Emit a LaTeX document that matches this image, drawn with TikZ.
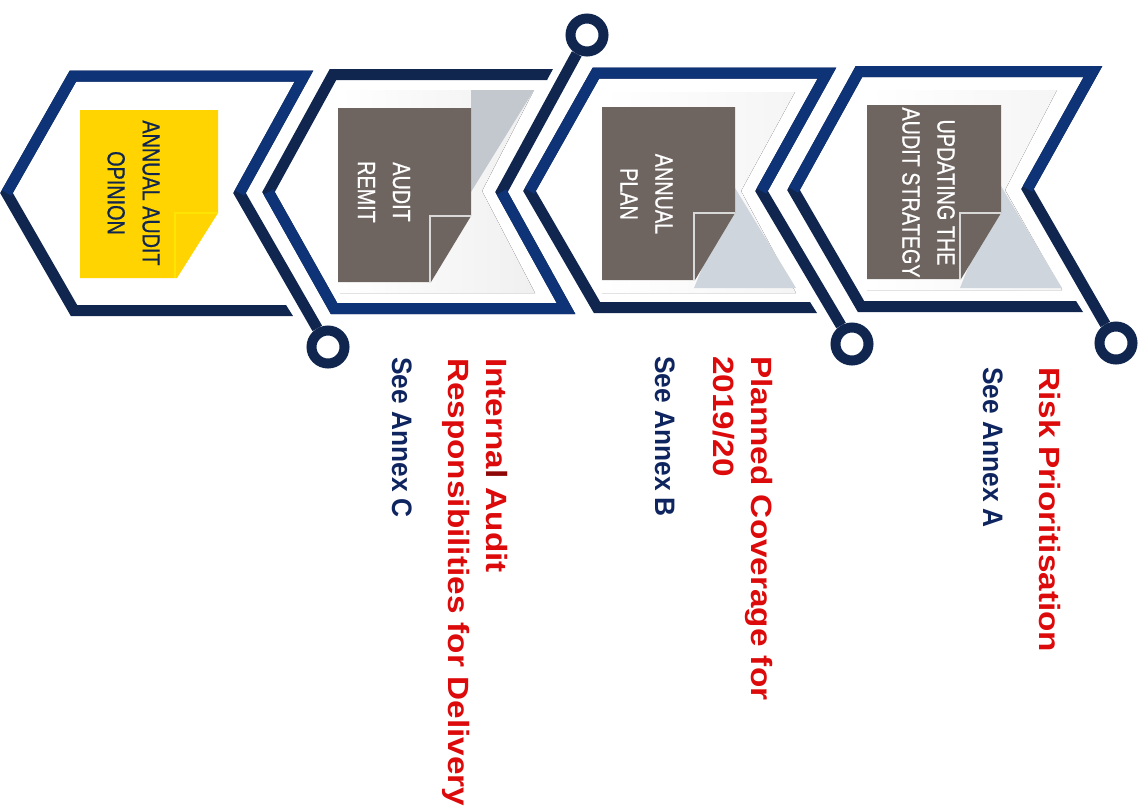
\documentclass[tikz,border=0pt]{standalone}
\usepackage{fontspec}
\setmainfont{Liberation Sans}
\newfontfamily\notefont[FakeBold=0.8]{Liberation Sans}
\definecolor{bandblue}{HTML}{0F3377}
\definecolor{banddark}{HTML}{10264F}
\definecolor{notegrey}{HTML}{6E6460}
\definecolor{noteyellow}{HTML}{FFD400}
\definecolor{shadegrey}{HTML}{CFD5DC}
\definecolor{labelred}{HTML}{DC0A0A}
\definecolor{labelnavy}{HTML}{0F2560}

\begin{document}
\begin{tikzpicture}[x=1pt, y=-1pt,
    band/.style={line width=11pt, miter limit=10},
    ringnode/.style={circle, draw=banddark, line width=10pt, minimum size=33pt, inner sep=0pt},
    fold/.style={line width=1.2pt},
    notetext/.style={rotate=-90, yscale=1.25, align=center, inner sep=0pt, font=\notefont\fontsize{19.8}{28}\selectfont},
    headlabel/.style={rotate=-90, yscale=0.88, align=left, anchor=north west, inner sep=0pt, text=labelred, font=\fontsize{33.3}{43}\selectfont\bfseries},
    seelabel/.style={rotate=-90, yscale=1.07, anchor=north west, inner sep=0pt, text=labelnavy, font=\fontsize{26.3}{30}\selectfont\bfseries}]
    \useasboundingbox (0,0) rectangle (1145,806);

    % Rings at the ends of the stalks
    \node[ringnode] (ringOpinion) at (328,347) {};
    \node[ringnode] (ringRemit) at (587,35) {};
    \node[ringnode] (ringPlan) at (852,344) {};
    \node[ringnode] (ringStrategy) at (1116,343) {};

    % Grey panels behind the notes
    \fill[left color=white, right color=gray!12] (340,90) -- (534,90) -- (482,191) -- (535,293) -- (340,293) -- cycle;
    \fill[left color=white, right color=gray!8] (602,92) -- (795,92) -- (741,191) -- (796,293) -- (602,293) -- cycle;
    \fill[left color=white, right color=gray!8] (867,90) -- (1057,90) -- (1005,190) -- (1062,290) -- (867,290) -- cycle;
    \fill[shadegrey!85!gray] (471,90) -- (534,90) -- (471,192) -- cycle;
    \fill[shadegrey] (735,188) -- (796,288) -- (694,288) -- cycle;
    \fill[shadegrey] (1001,186) -- (1062,288) -- (960,288) -- cycle;

    % Annual audit opinion
    \coordinate (notchOpinion) at (239.5,193);
    \coordinate (tipOpinion) at (6.5,193);
    \draw[band, banddark] (ringOpinion) -- (notchOpinion) -- (304,76) -- (73,76) -- (tipOpinion) -- (74,310.5) -- (286,310.5);
    \draw[band, bandblue] (notchOpinion) -- (304,76) -- (73,76) -- (tipOpinion);
    \fill[banddark] (286,305) -- (293,316) -- (286,316) -- cycle;
    \fill[noteyellow] (80,110) -- (218,110) -- (218,213) -- (177,278) -- (80,278) -- cycle;
    \draw[fold, yellow!60!noteyellow] (175,278) -- (175,213) -- (218,213);
    \node[notetext, text=banddark] (noteOpinion) at (133.5,193) {ANNUAL AUDIT\\OPINION};

    % Audit remit
    \coordinate (notchRemit) at (501.5,192);
    \coordinate (tipRemit) at (268.5,192);
    \draw[band, banddark] (ringRemit) -- (notchRemit) -- (566,308.5) -- (334,308.5) -- (tipRemit) -- (333,74.5) -- (547,74.5);
    \draw[band, bandblue] (tipRemit) -- (334,308.5) -- (566,308.5) -- (notchRemit);
    \fill[banddark] (547,69) -- (553,69) -- (547,80) -- cycle;
    \fill[notegrey] (338,108) -- (471,108) -- (471,216) -- (431,282) -- (338,282) -- cycle;
    \draw[fold, gray!30] (430,282) -- (430,216) -- (471,216);
    \node[notetext, text=white] (noteRemit) at (384,192) {AUDIT\\REMIT};

    % Annual plan
    \coordinate (notchPlan) at (761.5,191);
    \coordinate (tipPlan) at (529.5,191);
    \draw[band, banddark] (ringPlan) -- (notchPlan) -- (827,73) -- (596,73) -- (tipPlan) -- (597,307.5) -- (810,307.5);
    \draw[band, bandblue] (notchPlan) -- (827,73) -- (596,73) -- (tipPlan);
    \fill[banddark] (810,302) -- (817,313) -- (810,313) -- cycle;
    \fill[notegrey] (602,107) -- (735,107) -- (735,213) -- (695,280) -- (602,280) -- cycle;
    \draw[fold, gray!30] (694,280) -- (694,213) -- (735,213);
    \node[notetext, text=white] (notePlan) at (646.5,194) {ANNUAL\\PLAN};

    % Updating the audit strategy
    \coordinate (notchStrategy) at (1027.5,189);
    \coordinate (tipStrategy) at (793.5,190);
    \draw[band, banddark] (ringStrategy) -- (notchStrategy) -- (1093,71.5) -- (859,71.5) -- (tipStrategy) -- (861,306.5) -- (1076,306.5);
    \draw[band, bandblue] (notchStrategy) -- (1093,71.5) -- (859,71.5) -- (tipStrategy);
    \fill[banddark] (1076,301) -- (1083,312) -- (1076,312) -- cycle;
    \fill[notegrey] (867,105) -- (1001,105) -- (1001,213) -- (961,279) -- (867,279) -- cycle;
    \draw[fold, gray!30] (960,279) -- (960,213) -- (1001,213);
    \node[notetext, text=white] (noteStrategy) at (928.5,192.5) {UPDATING THE\\AUDIT STRATEGY};

    % Labels under the chevrons
    \node[headlabel] (headRemit) at (508,358) {Interna\textcolor{labelred!65!black}{l} Audit\\Responsibilities for Delivery};
    \node[seelabel] (seeRemit) at (412,357) {See Annex C};
    \node[headlabel] (headPlan) at (773,356) {Planned Coverage for\\2019/20};
    \node[seelabel] (seePlan) at (675,356) {See Annex B};
    \node[headlabel] (headStrategy) at (1061,367) {Risk Prioritisation};
    \node[seelabel] (seeStrategy) at (1003,367) {See Annex A};
\end{tikzpicture}
\end{document}
